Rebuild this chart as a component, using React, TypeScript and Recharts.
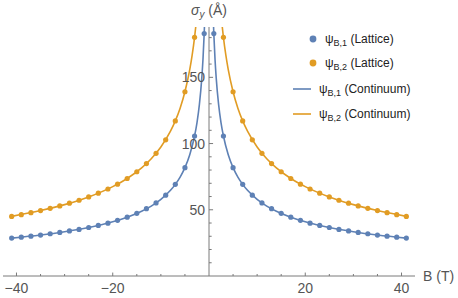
import React from 'react';
import {
  ComposedChart,
  Line,
  Scatter,
  XAxis,
  YAxis,
  ReferenceLine,
  ReferenceDot,
  Legend,
} from 'recharts';

// ---------- data ----------
// Lattice points, B > 0 side (the B < 0 side is the mirror image)
const latticeB1Field = [1, 3, 5, 7, 9, 11, 13, 15, 17, 19, 21, 23, 25, 27, 29, 31, 33, 35, 37, 39, 41];
const latticeB1Sigma = [183, 105.7, 81.8, 69.2, 61.0, 55.2, 50.8, 47.3, 44.4, 42.0, 39.9, 38.2, 36.6, 35.2, 34.0, 32.9, 31.9, 30.9, 30.1, 29.3, 28.6];
const latticeB2Field = [3, 5, 7, 9, 11, 13, 15, 17, 19, 21, 23, 25, 27, 29, 31, 33, 35, 37, 39, 41];
const latticeB2Sigma = [180.2, 139.1, 117.1, 102.8, 92.6, 84.9, 78.7, 73.6, 69.3, 65.7, 62.5, 59.7, 57.2, 55.0, 52.9, 51.1, 49.4, 47.8, 46.3, 45.0];

// Continuum curves, B > 0 side
const contB1Field = [0.9, 1, 1.25, 1.5, 2, 2.5, 3, 4, 5, 6, 7, 8, 10, 12, 14, 17, 20, 25, 30, 35, 41];
const contB1Sigma = [192.9, 183, 163.7, 149.4, 129.4, 115.7, 105.7, 91.5, 81.8, 74.7, 69.2, 64.7, 57.9, 52.8, 48.9, 44.4, 40.9, 36.6, 33.4, 30.9, 28.6];
const contB2Field = [2.6, 2.75, 3, 3.5, 4, 5, 6, 7, 8, 10, 12, 14, 17, 20, 25, 30, 35, 41];
const contB2Sigma = [193.8, 188.3, 180.2, 166.7, 155.8, 139.1, 126.7, 117.1, 109.3, 97.4, 88.5, 81.6, 73.6, 67.5, 59.7, 53.9, 49.4, 45.0];

// Axes
const xDomain = [-42.8, 42.8];
const yDomain = [0, 188];
const xMajorTicks = [-40, -20, 20, 40];
const xMinorTicks = [-35, -30, -25, -15, -10, -5, 5, 10, 15, 25, 30, 35];
const yMajorTicks = [50, 100, 150];
const yMinorTicks = [10, 20, 30, 40, 60, 70, 80, 90, 110, 120, 130, 140, 160, 170, 180];

const legendItems = [
  { kind: 'dot', color: '#5E81B5', sub: 'B,1', tail: ' (Lattice)' },
  { kind: 'dot', color: '#E19C24', sub: 'B,2', tail: ' (Lattice)' },
  { kind: 'line', color: '#5E81B5', sub: 'B,1', tail: ' (Continuum)' },
  { kind: 'line', color: '#E19C24', sub: 'B,2', tail: ' (Continuum)' },
];

// ---------- styles ----------
const BLUE = '#5E81B5';
const ORANGE = '#E19C24';
const AXIS = '#7a7a7a';
const TEXT = '#555555';
const FONT = '"Liberation Sans", Arial, sans-serif';
const X_TICK_MAJOR = 2.6; // tick lengths (data units)
const X_TICK_MINOR = 1.5;
const Y_TICK_MAJOR = 0.85;
const Y_TICK_MINOR = 0.55;
const LEGEND_ROWS = [14, 38, 64, 89];

// ---------- build tables ----------
const pos = (bs: number[], ss: number[]) => bs.map((b, i) => ({ b, s: ss[i] }));
const neg = (bs: number[], ss: number[]) => bs.map((b, i) => ({ b: -b, s: ss[i] })).reverse();

const latB1R = pos(latticeB1Field, latticeB1Sigma);
const latB1L = neg(latticeB1Field, latticeB1Sigma);
const latB2R = pos(latticeB2Field, latticeB2Sigma);
const latB2L = neg(latticeB2Field, latticeB2Sigma);
const conB1R = pos(contB1Field, contB1Sigma);
const conB1L = neg(contB1Field, contB1Sigma);
const conB2R = pos(contB2Field, contB2Sigma);
const conB2L = neg(contB2Field, contB2Sigma);

const minusFmt = (v: number) => String(v).replace('-', '\u2212');

const dotShape = (color: string) => (props: any) =>
  <circle cx={props.cx} cy={props.cy} r={2.6} fill={color} />;

const LegendContent = () => (
  <svg width={140} height={100} style={{ fontFamily: FONT }}>
    {legendItems.map((it, i) => {
      const y = LEGEND_ROWS[i];
      const tx = it.kind === 'dot' ? 40 : 34;
      return (
        <g key={i}>
          {it.kind === 'dot' ? (
            <circle cx={28} cy={y} r={3.4} fill={it.color} />
          ) : (
            <line x1={8} x2={26} y1={y} y2={y} stroke={it.color} strokeWidth={1.6} />
          )}
          <text x={tx} y={y + 4} fontSize={12} fill="#222">
            <tspan>ψ</tspan>
            <tspan fontSize={9} dy={3}>{it.sub}</tspan>
            <tspan dy={-3}>{it.tail}</tspan>
          </text>
        </g>
      );
    })}
  </svg>
);

const SigmaTitle = (props: any) => {
  const vb = props.viewBox || {};
  return (
    <text x={vb.x} y={vb.y - 12} textAnchor="middle" fontSize={14} fill={TEXT} fontFamily={FONT}>
      <tspan fontStyle="italic">σ</tspan>
      <tspan fontStyle="italic" fontSize={10} dy={3}>y</tspan>
      <tspan dy={-3}> (Å)</tspan>
    </text>
  );
};

export default function App() {
  return (
    <div style={{ position: 'absolute', left: 0, top: 0, width: 458, height: 298, background: '#fff' }}>
      <ComposedChart width={458} height={298} margin={{ top: 27, right: 43, bottom: 0, left: 3 }}>
        <XAxis
          type="number"
          dataKey="b"
          domain={xDomain}
          allowDataOverflow
          ticks={xMajorTicks}
          interval={0}
          tickLine={false}
          tickSize={0}
          tickMargin={7}
          height={22}
          tickFormatter={minusFmt}
          axisLine={{ stroke: AXIS }}
          tick={{ fill: TEXT, fontSize: 14, fontFamily: FONT }}
        />
        <YAxis type="number" dataKey="s" domain={yDomain} allowDataOverflow hide width={0} />

        {/* y axis at B = 0 */}
        <ReferenceLine x={0} stroke={AXIS} ifOverflow="visible" />
        {yMinorTicks.map((v) => (
          <ReferenceLine key={'ym' + v} segment={[{ x: 0, y: v }, { x: Y_TICK_MINOR, y: v }]} stroke={AXIS} />
        ))}
        {yMajorTicks.map((v) => (
          <ReferenceLine key={'yM' + v} segment={[{ x: 0, y: v }, { x: Y_TICK_MAJOR, y: v }]} stroke={AXIS} />
        ))}
        {xMinorTicks.map((v) => (
          <ReferenceLine key={'xm' + v} segment={[{ x: v, y: 0 }, { x: v, y: X_TICK_MINOR }]} stroke={AXIS} />
        ))}
        {xMajorTicks.map((v) => (
          <ReferenceLine key={'xM' + v} segment={[{ x: v, y: 0 }, { x: v, y: X_TICK_MAJOR }]} stroke={AXIS} />
        ))}
        {yMajorTicks.map((v) => (
          <ReferenceDot
            key={'yl' + v}
            x={0}
            y={v}
            r={0}
            stroke="none"
            fill="none"
            label={{ value: String(v), position: 'left', offset: 4, fill: TEXT, fontSize: 14, fontFamily: FONT }}
          />
        ))}
        <ReferenceDot x={0} y={yDomain[1]} r={0} stroke="none" fill="none" label={<SigmaTitle />} />
        <ReferenceDot
          x={xDomain[1]}
          y={0}
          r={0}
          stroke="none"
          fill="none"
          label={{ value: 'B (T)', position: 'right', offset: 8, fill: TEXT, fontSize: 14, fontFamily: FONT }}
        />

        <Line data={conB1L} dataKey="s" type="monotone" stroke={BLUE} strokeWidth={1.6} dot={false} isAnimationActive={false} />
        <Line data={conB1R} dataKey="s" type="monotone" stroke={BLUE} strokeWidth={1.6} dot={false} isAnimationActive={false} />
        <Line data={conB2L} dataKey="s" type="monotone" stroke={ORANGE} strokeWidth={1.6} dot={false} isAnimationActive={false} />
        <Line data={conB2R} dataKey="s" type="monotone" stroke={ORANGE} strokeWidth={1.6} dot={false} isAnimationActive={false} />

        <Scatter data={latB1L} dataKey="s" shape={dotShape(BLUE)} isAnimationActive={false} />
        <Scatter data={latB1R} dataKey="s" shape={dotShape(BLUE)} isAnimationActive={false} />
        <Scatter data={latB2L} dataKey="s" shape={dotShape(ORANGE)} isAnimationActive={false} />
        <Scatter data={latB2R} dataKey="s" shape={dotShape(ORANGE)} isAnimationActive={false} />

        <Legend
          layout="vertical"
          align="center"
          verticalAlign="middle"
          content={<LegendContent />}
          wrapperStyle={{ left: 285, top: 25, width: 140, height: 100 }}
        />
      </ComposedChart>
    </div>
  );
}
